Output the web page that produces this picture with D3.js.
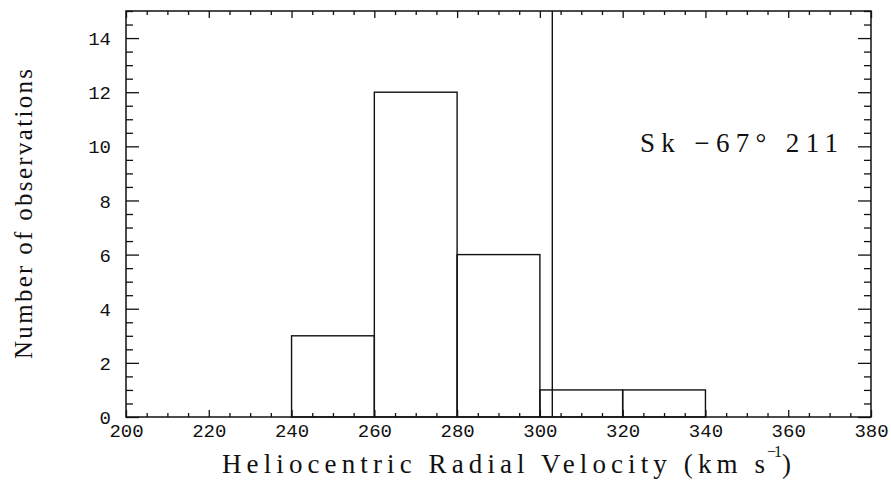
<!DOCTYPE html>
<html>
<head>
<meta charset="utf-8">
<script src="https://cdn.jsdelivr.net/npm/d3@7"></script>
<style>
  body { margin: 0; background: #fff; }
  svg { display: block; }
</style>
</head>
<body>
<svg id="chart" width="891" height="480"></svg>
<script>
// ---- data ----
const binStarts = [240, 260, 280, 300, 320];
const binEnds   = [260, 280, 300, 320, 340];
const counts    = [3, 12, 6, 1, 1];
const markerVelocity = 303;
const xMajorTicks = [200, 220, 240, 260, 280, 300, 320, 340, 360, 380];
const yMajorTicks = [0, 2, 4, 6, 8, 10, 12, 14];
const xDomain = [200, 380];
const yDomain = [0, 15];
const starLabel = "Sk \u221267\u00b0 211";
const xTitle = "Heliocentric Radial Velocity (km s";
const yTitle = "Number of observations";

// ---- layout ----
const L = 126, R = 871, T = 11, B = 417;
const svg = d3.select("#chart");
const x = d3.scaleLinear().domain(xDomain).range([L, R]);
const y = d3.scaleLinear().domain(yDomain).range([B, T]);
const ink = "#111";

const xMinor = d3.range(xDomain[0], xDomain[1] + 0.001, 5).filter(v => !xMajorTicks.includes(v));
const yMinor = d3.range(yDomain[0], yDomain[1] + 0.001, 0.5).filter(v => !yMajorTicks.includes(v));

function styleAxis(g) {
  g.select(".domain").remove();
  g.selectAll("line").attr("stroke", ink).attr("stroke-width", 1.3);
}
// bottom
svg.append("g").attr("transform", `translate(0,${B})`)
  .call(d3.axisBottom(x).tickValues(xMajorTicks).tickSize(-7).tickFormat(d3.format("d")))
  .call(styleAxis)
  .call(g => g.selectAll("text").attr("y", 20).attr("dy", 0)
     .attr("font-family", "Liberation Mono, monospace").attr("font-size", 19).attr("fill", ink));
svg.append("g").attr("transform", `translate(0,${B})`)
  .call(d3.axisBottom(x).tickValues(xMinor).tickSize(-4).tickFormat(""))
  .call(styleAxis);
// top
svg.append("g").attr("transform", `translate(0,${T})`)
  .call(d3.axisTop(x).tickValues(xMajorTicks).tickSize(-7).tickFormat(""))
  .call(styleAxis);
svg.append("g").attr("transform", `translate(0,${T})`)
  .call(d3.axisTop(x).tickValues(xMinor).tickSize(-4).tickFormat(""))
  .call(styleAxis);
// left
svg.append("g").attr("transform", `translate(${L},0)`)
  .call(d3.axisLeft(y).tickValues(yMajorTicks).tickSize(-13).tickFormat(d3.format("d")))
  .call(styleAxis)
  .call(g => g.selectAll("text").attr("x", -15).attr("dy", "0.35em")
     .attr("font-family", "Liberation Mono, monospace").attr("font-size", 19).attr("fill", ink));
svg.append("g").attr("transform", `translate(${L},0)`)
  .call(d3.axisLeft(y).tickValues(yMinor).tickSize(-7).tickFormat(""))
  .call(styleAxis);
// right
svg.append("g").attr("transform", `translate(${R},0)`)
  .call(d3.axisRight(y).tickValues(yMajorTicks).tickSize(-13).tickFormat(""))
  .call(styleAxis);
svg.append("g").attr("transform", `translate(${R},0)`)
  .call(d3.axisRight(y).tickValues(yMinor).tickSize(-7).tickFormat(""))
  .call(styleAxis);

// frame
svg.append("rect").attr("x", L).attr("y", T).attr("width", R - L).attr("height", B - T)
  .attr("fill", "none").attr("stroke", ink).attr("stroke-width", 1.5);

// histogram bars
svg.append("g").selectAll("rect").data(counts).join("rect")
  .attr("x", (d, i) => x(binStarts[i]))
  .attr("width", (d, i) => x(binEnds[i]) - x(binStarts[i]))
  .attr("y", d => y(d))
  .attr("height", d => y(0) - y(d))
  .attr("fill", "none").attr("stroke", ink).attr("stroke-width", 1.4);

// marker line
svg.append("line")
  .attr("x1", x(markerVelocity)).attr("x2", x(markerVelocity))
  .attr("y1", y(yDomain[0])).attr("y2", y(yDomain[1]))
  .attr("stroke", ink).attr("stroke-width", 1.4);

// star label
svg.append("text").attr("x", 640).attr("y", 152)
  .attr("font-family", "Liberation Serif, serif").attr("font-size", 27).attr("fill", ink)
  .attr("textLength", 198).attr("lengthAdjust", "spacing")
  .text(starLabel);

// x title
svg.append("text").attr("x", 222).attr("y", 473)
  .attr("font-family", "Liberation Serif, serif").attr("font-size", 27).attr("fill", ink)
  .attr("textLength", 543).attr("lengthAdjust", "spacing")
  .text(xTitle);
svg.append("text").attr("x", 767).attr("y", 457)
  .attr("font-family", "Liberation Serif, serif").attr("font-size", 16).attr("fill", ink)
  .attr("textLength", 15).attr("lengthAdjust", "spacing")
  .text("\u22121");
svg.append("text").attr("x", 782).attr("y", 473)
  .attr("font-family", "Liberation Serif, serif").attr("font-size", 27).attr("fill", ink)
  .text(")");

// y title
svg.append("text")
  .attr("transform", `translate(32,${(T + B) / 2}) rotate(-90)`)
  .attr("text-anchor", "middle")
  .attr("font-family", "Liberation Serif, serif").attr("font-size", 25).attr("fill", ink)
  .attr("textLength", 290).attr("lengthAdjust", "spacing")
  .text(yTitle);
</script>
</body>
</html>
